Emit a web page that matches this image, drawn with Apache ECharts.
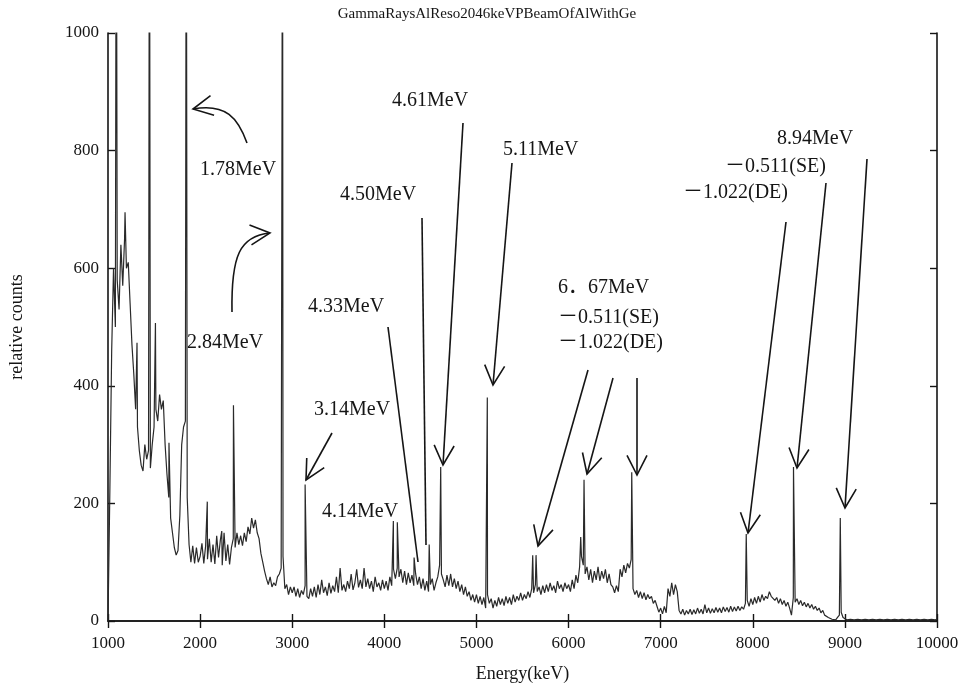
<!DOCTYPE html>
<html><head><meta charset="utf-8">
<script src="https://cdn.jsdelivr.net/npm/echarts@6/dist/echarts.min.js"></script>
<style>html,body{margin:0;padding:0;background:#fff}#c{width:964px;height:688px}</style>
</head><body><div id="c"></div><script>
// ---- data ----
const chartTitle = 'GammaRaysAlReso2046keVPBeamOfAlWithGe';
const xName = 'Energy(keV)';
const yName = 'relative counts';
const energyStart = 1000;   // keV, first channel
const energyStep = 20;      // keV per listed channel
// continuum counts, one row per 1000 keV (50 channels each)
const counts1000 = [0,220,460,600,500,580,530,640,570,650, 600,610,540,470,420,360,330,290,265,255, 300,275,290,260,300,330,360,340,385,360, 375,300,250,210,175,150,125,112,120,180, 300,330,340,210,130,100,128,98,125,100];
const counts2000 = [110,132,98,128,105,140,100,130,97,145, 108,138,95,150,102,130,96,125,140,125, 150,130,145,128,150,135,160,148,175,158, 172,150,140,115,100,85,72,62,75,58, 65,60,75,80,90,110,55,62,45,58];
const counts3000 = [48,58,42,55,40,52,45,60,42,38, 55,42,58,40,62,45,70,48,58,43, 65,47,60,50,75,48,90,52,62,50, 68,55,80,53,65,88,57,70,55,90, 58,72,55,68,50,75,58,65,52,70];
const counts4000 = [55,68,52,75,60,88,72,90,75,88, 65,85,62,82,65,78,60,80,62,75, 55,72,52,68,50,62,72,52,65,75, 95,80,70,58,78,60,80,58,72,55, 68,50,62,45,58,42,50,35,45,32];
const counts5000 = [45,30,42,28,40,22,45,30,38,22, 35,25,40,28,38,26,42,30,40,28, 45,32,42,35,48,35,45,38,50,40, 55,48,62,50,58,45,60,48,62,50, 65,52,60,48,68,55,62,50,65,55];
const counts6000 = [62,50,70,55,78,65,92,110,95,80, 92,70,88,65,85,70,92,68,85,72, 88,65,80,62,58,48,60,50,88,75, 95,82,98,90,105,55,45,52,40,50, 38,48,36,45,38,42,30,35,25,15];
const counts7000 = [22,12,25,14,55,42,65,45,62,50, 18,12,20,10,18,12,20,11,19,12, 22,13,20,12,28,14,22,13,21,14, 23,15,22,14,24,16,23,15,25,16, 24,17,25,18,24,20,30,35,25,38];
const counts8000 = [28,40,30,42,32,45,35,42,38,50, 42,45,35,40,30,38,28,35,25,32, 22,10,40,32,38,28,35,26,32,24, 30,22,28,20,25,18,22,14,18,10, 12,6,8,3,5,2,6,10,15,6];
const counts9000 = [4,2,5,3,6,2,4,3,6,2, 5,3,4,2,5,3,4,2,5,3, 4,2,4,3,5,2,4,3,4,2, 5,3,4,2,4,3,5,2,4,3, 4,2,4,3,5,2,4,3,5,2, 3];
// sharp full-energy / escape peaks (energy keV, top counts; 1400 = off scale)
const peakEnergy = [1090,1185,1315,1450,1515,1662,1850,2078,2235,2362,2895,3140,4098,4141,4323,4487,4612,5118,5611,5647,6132,6168,6686,7929,8442,8950];
const peakCounts = [1400,695,473,1400,507,303,1400,203,153,367,1400,232,170,168,108,130,262,380,112,112,143,240,253,148,262,175];
const xMin = 1000, xMax = 10000, xInterval = 1000;
const yMin = 0, yMax = 1000, yInterval = 200;

// ---- build series ----
const continuum = [].concat(counts1000, counts2000, counts3000, counts4000, counts5000, counts6000, counts7000, counts8000, counts9000);
const spectrum = continuum.map((c, i) => [energyStart + i * energyStep, c]);
peakEnergy.forEach((e, i) => spectrum.push([e, peakCounts[i]]));
spectrum.sort((a, b) => a[0] - b[0]);

// ---- annotations (overlay) ----
const INK = '#151515';
const SERIF = '"Liberation Serif","Times New Roman","Noto Sans CJK JP",serif';
function label(t, x, y) {
  return {type: 'text', x: x, y: y, z: 100,
    style: {text: t, fill: INK, font: '20px ' + SERIF, textAlign: 'left', textVerticalAlign: 'middle', align: 'left', verticalAlign: 'middle'}};
}
function line(x1, y1, x2, y2) {
  return {type: 'line', z: 100, shape: {x1, y1, x2, y2}, style: {stroke: INK, lineWidth: 1.6}};
}
function head(tx, ty, fx, fy) {
  const dx = fx - tx, dy = fy - ty, L = Math.hypot(dx, dy);
  const ux = dx / L, uy = dy / L, c = Math.cos(27 * Math.PI / 180), s = Math.sin(27 * Math.PI / 180), hl = 22;
  const a = [tx + hl * (ux * c - uy * s), ty + hl * (ux * s + uy * c)];
  const b = [tx + hl * (ux * c + uy * s), ty + hl * (-ux * s + uy * c)];
  return {type: 'polyline', z: 100, shape: {points: [a, [tx, ty], b]}, style: {stroke: INK, lineWidth: 1.6, fill: null}};
}
function arrow(x1, y1, x2, y2) { return [line(x1, y1, x2, y2), head(x2, y2, x1, y1)]; }
function curve(x1, y1, c1x, c1y, c2x, c2y, x2, y2) {
  return [{type: 'bezierCurve', z: 100, shape: {x1, y1, x2, y2, cpx1: c1x, cpy1: c1y, cpx2: c2x, cpy2: c2y}, style: {stroke: INK, lineWidth: 1.6, fill: null}},
          head(x2, y2, c2x, c2y)];
}
const graphics = [].concat(
  curve(247, 143, 238, 118, 226, 103, 193, 109),
  curve(232, 312, 231, 255, 240, 236, 270, 233),
  arrow(332, 433, 306, 480),
  [line(388, 327, 418, 562), line(422, 218, 426, 545)],
  arrow(463, 123, 443, 465),
  arrow(512, 163, 493, 385),
  arrow(588, 370, 538, 546),
  arrow(613, 378, 587, 474),
  arrow(637, 378, 637, 475),
  arrow(786, 222, 748, 533),
  arrow(826, 183, 797, 468),
  arrow(867, 159, 845, 508),
  [label('1.78MeV', 200, 170), label('2.84MeV', 187, 343), label('4.33MeV', 308, 307),
   label('3.14MeV', 314, 410), label('4.14MeV', 322, 512), label('4.50MeV', 340, 195),
   label('4.61MeV', 392, 101), label('5.11MeV', 503, 150), label('6．67MeV', 558, 288),
   label('－0.511(SE)', 558, 318), label('－1.022(DE)', 558, 343),
   label('8.94MeV', 777, 139), label('－0.511(SE)', 725, 167), label('－1.022(DE)', 683, 193)]
);

const axisLine = {show: true, lineStyle: {color: INK, width: 1.6}};
const tick = {show: true, inside: true, length: 7, lineStyle: {color: INK, width: 1.4}};
const lbl = {color: INK, fontFamily: SERIF, fontSize: 17, formatter: v => String(v)};

const chart = echarts.init(document.getElementById('c'), null, {renderer: 'canvas'});
chart.setOption({
  animation: false,
  backgroundColor: '#fff',
  title: {text: chartTitle, left: 482, top: 2, textAlign: 'center',
    textStyle: {color: INK, fontFamily: SERIF, fontSize: 15, fontWeight: 'normal'}},
  grid: {left: 108, right: 27, top: 33, bottom: 56},
  xAxis: [
    {type: 'value', min: xMin, max: xMax, interval: xInterval, position: 'bottom',
     name: xName, nameLocation: 'middle', nameGap: 44,
     nameTextStyle: {color: INK, fontFamily: SERIF, fontSize: 18},
     axisLine, axisTick: tick, axisLabel: Object.assign({margin: 14}, lbl), splitLine: {show: false}},
    {type: 'value', min: xMin, max: xMax, interval: xInterval, position: 'top',
     axisLine, axisTick: tick, axisLabel: {show: false}, splitLine: {show: false}}
  ],
  yAxis: [
    {type: 'value', min: yMin, max: yMax, interval: yInterval, position: 'left',
     name: yName, nameLocation: 'middle', nameGap: 82, nameRotate: 90,
     nameTextStyle: {color: INK, fontFamily: SERIF, fontSize: 18},
     axisLine, axisTick: tick, axisLabel: Object.assign({margin: 9}, lbl), splitLine: {show: false}},
    {type: 'value', min: yMin, max: yMax, interval: yInterval, position: 'right',
     axisLine, axisTick: tick, axisLabel: {show: false}, splitLine: {show: false}}
  ],
  series: [{
    type: 'line', data: spectrum, xAxisIndex: 0, yAxisIndex: 0,
    showSymbol: false, symbol: 'none', clip: true,
    lineStyle: {color: '#2a2a2a', width: 1.2}
  }],
  graphic: graphics
});
</script></body></html>
